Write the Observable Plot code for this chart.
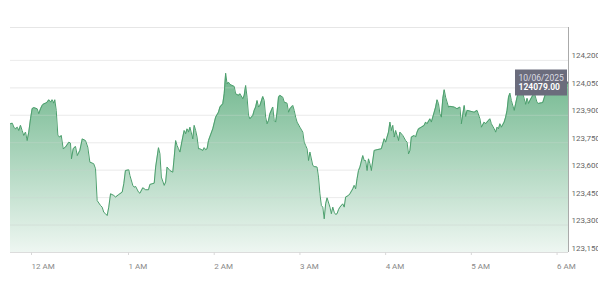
<!DOCTYPE html>
<html>
<head>
<meta charset="utf-8">
<script src="https://cdn.jsdelivr.net/npm/d3@7"></script>
<script src="https://cdn.jsdelivr.net/npm/@observablehq/plot@0.6"></script>
<style>
  html, body { margin: 0; padding: 0; background: #fff; }
  #wrap { width: 598px; height: 287px; overflow: hidden; background: #fff; }
  #wrap svg { max-width: none !important; width: 613px; height: 287px; }
</style>
</head>
<body>
<div id="wrap"></div>
<script>
// Minutes relative to 10/06/2025 00:00 (UTC) for each observation
const minutes = [
  -13, -11.9, -10.9, -9.9, -8.8, -7.9, -6.8, -5.8, -4.8, -3.7, -2.7, -1.7, -0.6, 0.4, 1.4, 3.5, 4.5, 5.6, 6.6, 7.6,
  8.7, 9.7, 10.7, 11.8, 12.8, 13.8, 14.4, 15.3, 16.3, 17.5, 18.4, 19.6, 21.0, 23.1, 24.1, 24.7, 25.8, 27.2, 28.3, 29.9,
  31.4, 33.4, 34.8, 36.1, 37.5, 38.5, 39.6, 40.6, 42.7, 43.7, 44.7, 45.8, 46.8, 47.8, 48.9, 50.9, 52.0, 54.0, 56.1, 57.1,
  58.1, 60.2,
  61, 63, 64, 65, 67, 68, 70, 72, 74, 75, 78, 79, 81, 82, 83, 85, 86, 87, 89, 91,
  92, 93, 94, 95, 96, 98, 99, 100, 101, 102, 103, 105, 106, 107, 108, 109, 110, 112, 113, 114,
  115, 116, 119, 121, 123, 124, 126, 127, 128, 129, 130, 131, 134, 135, 137, 138, 140, 141, 142, 143,
  144, 145, 147, 148, 149, 150, 151, 152, 154, 155, 156, 157, 158, 159, 161, 162, 163, 164, 165, 166,
  168, 169, 171, 172, 173, 175, 176, 177, 178, 180, 182, 183, 184, 185, 186, 187, 189, 190, 192, 193,
  194, 195, 196, 197, 198, 199, 201, 202, 203, 204, 205, 206, 207, 208, 210, 211, 212, 214, 215, 217,
  218, 219, 220, 221, 222, 224, 225, 226, 227, 228, 229, 230, 232, 234, 237, 239, 240, 241, 242, 243,
  244, 245, 246, 247, 249, 250, 252, 254, 255, 256, 257, 258, 260, 261, 262, 263, 265, 267, 268, 269,
  271, 272, 274, 275, 276, 277, 278, 279, 280, 281, 282, 284, 285, 288, 290, 292, 293, 295, 296, 297,
  299, 302, 304, 306, 307, 309, 310, 311, 312, 313, 314, 316, 317, 318, 319, 320, 321, 323, 324, 325,
  326, 327, 328, 330, 331, 332, 333, 334, 336, 338, 339, 340, 341, 343, 344, 346, 347, 349, 350, 352,
  354, 357, 359, 362, 365, 368
];
const prices = [
  123854, 123857, 123835, 123826, 123835, 123817, 123845, 123817, 123790, 123808, 123762, 123808, 123881, 123936, 123942, 123936, 123909, 123936, 123954, 123963,
  123966, 123972, 123985, 123972, 123985, 123966, 123985, 123927, 123790, 123781, 123790, 123717, 123726, 123753, 123748, 123662, 123717, 123730, 123680, 123708,
  123771, 123762, 123726, 123644, 123639, 123635, 123608, 123434, 123407, 123398, 123370, 123362, 123352, 123398, 123471, 123462, 123453, 123467, 123480, 123526,
  123598, 123602,
  123571, 123517, 123507, 123511, 123480, 123474, 123504, 123493, 123493, 123522, 123529, 123617, 123723, 123690, 123562, 123517, 123535, 123617, 123598, 123589,
  123671, 123762, 123735, 123717, 123699, 123781, 123817, 123799, 123826, 123808, 123835, 123771, 123845, 123817, 123781, 123717, 123717, 123708, 123723, 123712,
  123717, 123762, 123826, 123890, 123917, 123945, 123963, 124018, 124130, 124072, 124081, 124069, 124058, 124018, 124009, 124018, 123991, 124009, 124063, 123999,
  123899, 123881, 123899, 123927, 123945, 123981, 123945, 123954, 124003, 123981, 123890, 123854, 123872, 123909, 123945, 123872, 123863, 123917, 123999, 124009,
  123999, 123972, 123966, 123917, 123936, 123954, 123927, 123890, 123863, 123835, 123808, 123753, 123735, 123717, 123653, 123699, 123626, 123620, 123617, 123562,
  123471, 123407, 123398, 123334, 123416, 123449, 123398, 123362, 123398, 123370, 123358, 123362, 123384, 123398, 123416, 123398, 123453, 123462, 123471, 123498,
  123517, 123498, 123553, 123598, 123617, 123680, 123653, 123653, 123598, 123662, 123635, 123598, 123708, 123712, 123717, 123772, 123753, 123781, 123808, 123863,
  123817, 123845, 123781, 123817, 123762, 123808, 123790, 123762, 123753, 123689, 123708, 123781, 123790, 123781, 123808, 123826, 123835, 123845, 123863, 123854,
  123881, 123863, 123917, 123945, 123985, 123963, 123909, 123890, 123991, 124040, 123999, 123945, 123949, 123945, 123936, 123945, 123854, 123954, 123894, 123927,
  123923, 123917, 123927, 123881, 123835, 123863, 123854, 123863, 123872, 123881, 123854, 123826, 123808, 123835, 123826, 123854, 123835, 123863, 123890, 123927,
  123999, 124021, 123981, 123927, 123963, 123999, 124025, 124036, 124020, 123960, 123993, 123965, 123981, 124009, 124025, 123970, 123965, 123968, 123970, 124020,
  124047, 124058, 124042, 124069, 124058, 124079
];
const yTicks = [123150, 123300, 123450, 123600, 123750, 123900, 124050, 124200];
const tickHours = [0, 1, 2, 3, 4, 5, 6];
const tickLabels = ["12 AM", "1 AM", "2 AM", "3 AM", "4 AM", "5 AM", "6 AM"];
const yMin = 123150, yMax = 124380;
const tooltipDate = "10/06/2025";

const base = Date.UTC(2025, 9, 6, 0, 0, 0);
const toDate = m => new Date(base + m * 60000);
const data = minutes.map((m, i) => ({date: toDate(m), value: prices[i]}));
const last = data[data.length - 1];
const ticks = tickHours.map(h => toDate(h * 60));

const green = "#3f9e66";

const defs = () => {
  const d = d3.create("svg:defs");
  const g = d.append("linearGradient").attr("id", "areaGrad")
    .attr("x1", 0).attr("x2", 0).attr("y1", 0).attr("y2", 1);
  g.append("stop").attr("offset", "0%").attr("stop-color", green).attr("stop-opacity", 0.74);
  g.append("stop").attr("offset", "100%").attr("stop-color", green).attr("stop-opacity", 0.09);
  return d.node();
};

const chart = Plot.plot({
  width: 613,
  height: 287,
  marginTop: 27,
  marginBottom: 35,
  marginLeft: 10,
  marginRight: 45,
  style: {fontFamily: "Roboto, sans-serif", fontSize: "8px", background: "white", color: "#777"},
  x: {type: "utc", domain: [data[0].date, toDate(60), last.date], range: [10, 128, 568]},
  y: {domain: [yMin, yMax]},
  marks: [
    defs,
    Plot.gridY(yTicks, {stroke: "#e6e6e6", strokeOpacity: 1}),
    Plot.ruleY([yMax], {stroke: "#e6e6e6"}),
    Plot.areaY(data, {x: "date", y1: yMin, y2: "value", fill: "url(#areaGrad)"}),
    Plot.gridY(yTicks, {stroke: "#ffffff", strokeOpacity: 0.28}),
    Plot.ruleY([yMin], {stroke: "#dcdcdc"}),
    Plot.lineY(data, {x: "date", y: "value", stroke: "#4c9f6d", strokeWidth: 1}),
    Plot.ruleX([last.date], {stroke: "#aaaaaa"}),
    Plot.axisX(ticks, {
      tickSize: 3, tickPadding: 8, stroke: "#d8d8d8", fill: "#888", textAnchor: "start",
      tickFormat: d => tickLabels[tickHours.indexOf(d.getUTCHours())], label: null, fontSize: 8
    }),
    Plot.axisY(yTicks, {
      anchor: "right", tickSize: 0, tickPadding: 3, dy: -4.5, fill: "#666",
      tickFormat: d3.format(","), label: null, fontSize: 8
    }),
    Plot.tip([last], {
      x: "date", y: "value", anchor: "right",
      title: d => `${tooltipDate}\n${d.value.toFixed(2)}`,
      fill: "#6b6c7c", stroke: "none", fontSize: 8.5, textPadding: 3.5, pointerSize: 3,
      lineHeight: 1.05, pathFilter: "none"
    })
  ]
});

document.getElementById("wrap").appendChild(chart);

// style the tooltip text
chart.querySelectorAll('g[aria-label="tip"] text').forEach(t => {
  t.setAttribute("fill", "#dcdce4");
  t.style.fill = "#dcdce4";
  const lines = t.querySelectorAll(":scope > tspan");
  if (lines.length > 1) {
    lines[1].style.fill = "#ffffff";
    lines[1].style.fontWeight = "bold";
  }
});
</script>
</body>
</html>
